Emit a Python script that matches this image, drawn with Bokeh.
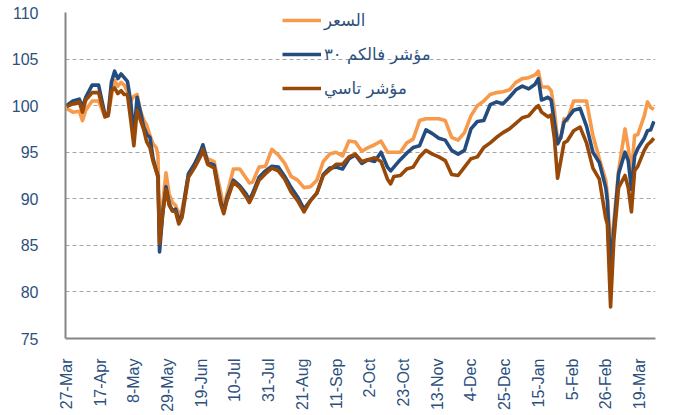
import math
from bokeh.plotting import figure
from bokeh.models import ColumnDataSource, FixedTicker, Legend, LegendItem
from bokeh.embed import file_html
from bokeh.resources import INLINE

# day offsets from 27-Mar
days = [0, 4, 8, 10, 12, 16, 20, 24, 26, 28, 30, 32, 34, 36, 38, 40, 42, 44, 46, 48, 50, 52, 54, 56, 57, 58,
        60, 62, 64, 66, 68, 70, 72, 76, 80, 84, 85, 88, 92, 96, 98, 100, 104, 108, 112, 114, 116, 120, 124,
        128, 132, 136, 140, 144, 148, 152, 156, 160, 164, 168, 172, 176, 180, 184, 188, 192, 196, 200, 202,
        204, 208, 212, 216, 220, 224, 228, 232, 236, 240, 244, 248, 252, 256, 260, 264, 268, 272, 276, 280,
        284, 288, 292, 294, 296, 300, 302, 304, 306, 308, 310, 312, 316, 320, 324, 328, 332, 336, 337, 339,
        341, 344, 348, 350, 352, 354, 356, 360, 362, 364, 366]

price = [99.7, 99.3, 99.4, 98.4, 99.5, 100.5, 100.5, 98.8, 99.0, 101.0, 102.7, 102.1, 102.5, 102.2, 101.5,
         100.5, 101.0, 101.2, 99.5, 98.5, 97.9, 96.8, 95.9, 95.5, 94.6, 86.0,
         89.5, 92.8, 90.5, 89.6, 89.3, 88.3, 88.8, 92.5, 93.8, 95.0, 95.2, 94.3, 94.0, 90.8, 89.1, 90.5,
         93.2, 93.2, 92.2, 91.7, 91.8, 93.4, 93.5,
         95.3, 94.7, 93.8, 92.4, 92.0, 91.2, 91.3, 92.0, 94.0, 94.8, 95.0, 94.6, 96.2, 96.1, 95.1, 95.5,
         95.8, 96.2, 95.0, 95.0,
         95.0, 95.0, 96.0, 96.4, 98.4, 98.6, 98.6, 98.6, 98.4, 96.6, 96.3, 97.1, 98.9, 100.0, 100.5, 101.2,
         101.4, 101.5, 101.7, 102.5,
         102.9, 103.0, 103.3, 103.7, 102.0, 102.0, 101.6, 99.5, 96.2, 96.5, 98.6, 98.4, 100.5, 100.5, 100.5,
         96.8, 94.3, 92.0, 90.5, 84.3,
         87.5, 93.0, 97.5, 95.5, 92.8, 96.8, 96.9, 98.9, 100.4, 99.8, 99.6]

falcom30 = [100.0, 100.5, 100.7, 99.8, 100.9, 102.2, 102.2, 99.0, 99.1, 102.5, 103.7, 102.9, 103.4, 103.0,
            102.6, 100.5, 96.7, 100.9, 99.4, 97.8, 96.9, 96.6, 94.3, 93.0, 92.5, 84.3,
            88.5, 91.3, 89.5, 88.7, 88.9, 87.6, 88.3, 92.7, 93.8, 95.3, 95.8, 93.9, 93.6, 89.8, 88.6, 90.1,
            92.0, 91.4, 90.5, 89.9, 90.6, 92.3, 93.0,
            93.5, 93.4, 92.4, 91.2, 90.2, 88.9, 89.8, 90.6, 92.6, 93.3, 93.4, 93.2, 94.3, 94.7, 93.8, 94.2,
            94.0, 95.0, 93.4, 93.0,
            93.4, 94.2, 94.9, 95.5, 95.7, 97.4, 97.0, 96.5, 96.3, 95.2, 94.8, 95.2, 97.5, 98.3, 98.4, 100.1,
            100.4, 100.2, 100.9, 101.7,
            102.1, 101.8, 102.3, 102.9, 100.6, 100.9, 100.6, 98.2, 95.9, 96.6, 98.2, 98.6, 99.5, 99.7, 97.8,
            95.0, 93.9, 91.2, 89.8, 82.7,
            86.6, 92.7, 95.0, 94.1, 91.0, 94.6, 95.4, 96.5, 97.3, 97.4, 98.3]

tasi = [99.9, 100.2, 100.4, 99.3, 100.6, 101.4, 101.4, 98.8, 98.9, 101.6, 101.9, 101.3, 101.6, 101.2, 101.2,
        98.5, 95.7, 99.5, 98.5, 97.5, 96.1, 95.5, 94.0, 92.9, 92.3, 85.2,
        88.5, 91.0, 89.3, 88.7, 88.6, 87.3, 88.0, 92.3, 93.4, 94.7, 95.3, 93.7, 93.3, 89.5, 88.4, 89.8,
        91.8, 91.2, 90.2, 89.6, 90.3, 92.0, 92.7,
        93.3, 93.0, 92.1, 90.7, 89.8, 88.6, 89.8, 90.6, 92.5, 93.1, 93.7, 93.7, 94.5, 94.8, 94.0, 94.2,
        94.4, 94.0, 92.1, 91.6,
        92.4, 92.5, 93.2, 93.4, 94.5, 95.2, 94.8, 94.5, 94.1, 92.6, 92.5, 93.4, 94.3, 94.5, 95.5, 96.0,
        96.6, 97.1, 97.5, 98.1,
        98.7, 98.9, 99.7, 100.0, 99.3, 98.8, 99.0, 96.5, 92.2, 94.1, 96.0, 96.2, 97.3, 97.7, 96.0,
        93.3, 92.1, 87.9, 87.3, 78.4,
        85.5, 91.2, 92.5, 91.2, 88.6, 93.0, 93.5, 95.2, 95.8, 96.1, 96.5]

tick_days = [0, 21, 42, 63, 84, 105, 126, 147, 168, 189, 210, 231, 252, 273, 294, 315, 336, 357]
tick_labels = ["27-Mar", "17-Apr", "8-May", "29-May", "19-Jun", "10-Jul", "31-Jul", "21-Aug", "11-Sep",
               "2-Oct", "23-Oct", "13-Nov", "4-Dec", "25-Dec", "15-Jan", "5-Feb", "26-Feb", "19-Mar"]
y_ticks = [75, 80, 85, 90, 95, 100, 105, 110]

names = ["السعر", "مؤشر فالكم ٣٠", "مؤشر تاسي"]
colors = ["#F79A4B", "#244C7F", "#984807"]

src = ColumnDataSource(dict(days=days, price=price, falcom30=falcom30, tasi=tasi))

LABEL_COLOR = "#2D507D"

p = figure(width=673, height=415, x_range=(-0.6, 367), y_range=(75, 110),
           output_backend="svg", toolbar_location=None,
           min_border_left=65, min_border_right=18, min_border_top=12, min_border_bottom=77)
p.outline_line_color = None
p.background_fill_color = "white"

r1 = p.line("days", "price", source=src, line_color=colors[0], line_width=3.6, line_join="round")
r2 = p.line("days", "falcom30", source=src, line_color=colors[1], line_width=3.6, line_join="round")
r3 = p.line("days", "tasi", source=src, line_color=colors[2], line_width=3.6, line_join="round")

p.xgrid.grid_line_color = None
p.ygrid.ticker = FixedTicker(ticks=y_ticks)
p.ygrid.grid_line_color = "#A6A6A6"
p.ygrid.grid_line_dash = "4 3"
p.ygrid.grid_line_width = 1.2

p.xaxis.ticker = FixedTicker(ticks=tick_days)
p.xaxis.major_label_overrides = {d: l for d, l in zip(tick_days, tick_labels)}
p.xaxis.major_label_orientation = math.pi / 2
p.yaxis.ticker = FixedTicker(ticks=y_ticks)

for ax in (p.xaxis[0], p.yaxis[0]):
    ax.axis_line_color = "#868686"
    ax.axis_line_width = 2
    ax.major_tick_line_color = None
    ax.minor_tick_line_color = None
    ax.major_label_text_color = LABEL_COLOR
    ax.major_label_text_font = "Liberation Sans"
    ax.major_label_text_font_size = "16px"
p.yaxis.major_label_standoff = 21
p.xaxis.major_label_standoff = 14

legend = Legend(items=[LegendItem(label=names[0], renderers=[r1]),
                       LegendItem(label=names[1], renderers=[r2]),
                       LegendItem(label=names[2], renderers=[r3])],
                location=(217, 240), orientation="vertical")
legend.background_fill_alpha = 0
legend.border_line_alpha = 0
legend.padding = 0
legend.margin = 0
legend.spacing = 14
legend.glyph_width = 39
legend.glyph_height = 20
legend.label_height = 20
legend.label_standoff = 3
legend.label_text_font = "DejaVu Sans"
legend.label_text_font_size = "16.5px"
legend.label_text_color = LABEL_COLOR
p.add_layout(legend)

open("out.html", "w").write(file_html(p, INLINE))
